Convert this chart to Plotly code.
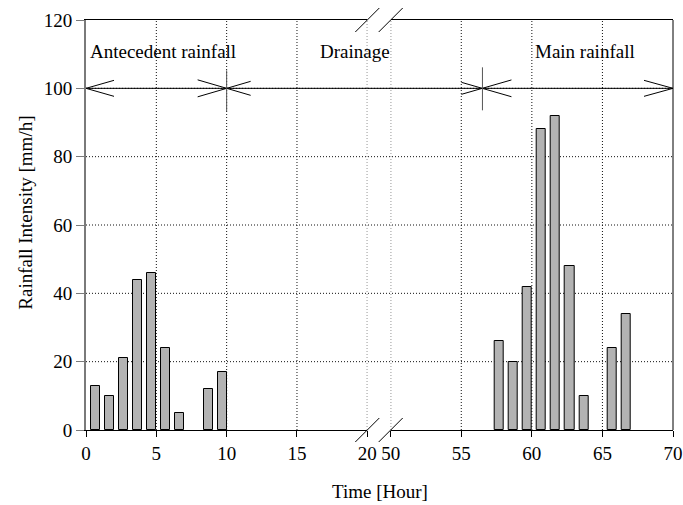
import plotly.graph_objects as go

# ---- data ----
hours_early = [1, 2, 3, 4, 5, 6, 7, 9, 10]
rain_early = [13, 10, 21, 44, 46, 24, 5, 12, 17]
hours_late = [58, 59, 60, 61, 62, 63, 64, 66, 67]
rain_late = [26, 20, 42, 88, 92, 48, 10, 24, 34]

x_ticks_early = [0, 5, 10, 15, 20]
x_ticks_late = [50, 55, 60, 65, 70]
y_ticks = [0, 20, 40, 60, 80, 100, 120]

phase_labels = ["Antecedent rainfall", "Drainage", "Main rainfall"]
phase_bounds = [0, 10, 56.5, 70]   # arrow marks (hours)
arrow_level = 100
label_level = 110.8

FONT = "Liberation Serif"
BAR_W = 0.64

fig = go.Figure()
bar_style = dict(marker=dict(color="#b3b3b3", line=dict(color="black", width=1)),
                 width=BAR_W, offset=-BAR_W, showlegend=False, hoverinfo="skip")
fig.add_trace(go.Bar(x=hours_early, y=rain_early, xaxis="x", yaxis="y", **bar_style))
fig.add_trace(go.Bar(x=hours_late, y=rain_late, xaxis="x2", yaxis="y", **bar_style))

W, H = 683, 505
ml, mr, mt, mb = 86, 10, 20, 75
pw = W - ml - mr
ph = H - mt - mb
d_left = [0, (367.3 - ml) / pw]
d_right = [(390.7 - ml) / pw, 1]

axis_common = dict(showline=True, linecolor="black", linewidth=1, mirror=True,
                   ticks="outside", ticklen=6, tickcolor="black", tickwidth=1,
                   showgrid=False, zeroline=False, automargin=False,
                   tickfont=dict(family=FONT, size=19, color="black"))

fig.update_layout(
    template="none",
    width=W, height=H, autosize=False,
    margin=dict(l=ml, r=mr, t=mt, b=mb, autoexpand=False),
    paper_bgcolor="white", plot_bgcolor="white",
    bargap=0,
    xaxis=dict(domain=d_left, range=[x_ticks_early[0], x_ticks_early[-1]],
               tickvals=x_ticks_early, anchor="y", **axis_common),
    xaxis2=dict(domain=d_right, range=[x_ticks_late[0], x_ticks_late[-1]],
                tickvals=x_ticks_late, anchor="y", **axis_common),
    yaxis=dict(range=[y_ticks[0], y_ticks[-1]], tickvals=y_ticks, anchor="x",
               showline=True, linecolor="#7a7a7a", linewidth=2,
               ticks="outside", ticklen=8, tickcolor="#7a7a7a", tickwidth=1,
               showgrid=False, zeroline=False, automargin=False,
               tickfont=dict(family=FONT, size=19, color="black")),
)

shapes = []
grid = dict(color="#111", width=1, dash="1px,2px")
# horizontal grid
for yv in y_ticks[1:-1]:
    shapes.append(dict(type="line", xref="paper", yref="y", x0=0, x1=1, y0=yv, y1=yv,
                       line=grid, layer="below"))
# vertical grid
for xv in x_ticks_early[1:]:
    shapes.append(dict(type="line", xref="x", yref="paper", x0=xv, x1=xv, y0=0, y1=1,
                       line=grid, layer="below"))
for xv in x_ticks_late[:-1]:
    shapes.append(dict(type="line", xref="x2", yref="paper", x0=xv, x1=xv, y0=0, y1=1,
                       line=grid, layer="below"))

# right border
shapes.append(dict(type="line", xref="paper", yref="paper", x0=1, x1=1, y0=0, y1=1,
                   line=dict(color="black", width=1)))

# axis break slashes (paper-referenced so they are not clipped)
def slash(xa, ya):
    return dict(type="line", xref="paper", yref="paper", xsizemode="pixel", ysizemode="pixel",
                xanchor=xa, yanchor=ya, x0=-12, x1=12, y0=-12, y1=12,
                line=dict(color="black", width=1))
for ya in (0, 1):
    shapes.append(slash(d_left[1], ya))
    shapes.append(slash(d_right[0], ya))

# phase arrow line
shapes.append(dict(type="line", xref="paper", yref="y", x0=0, x1=1,
                   y0=arrow_level, y1=arrow_level, line=dict(color="black", width=1)))

def pline(xref, xa, x0, y0, x1, y1, color="black"):
    return dict(type="line", xref=xref, yref="y", xsizemode="pixel", ysizemode="pixel",
                xanchor=xa, yanchor=arrow_level, x0=x0, x1=x1, y0=y0, y1=y1,
                line=dict(color=color, width=1))

# left arrowhead at start
shapes.append(pline("x", phase_bounds[0], 0, 0, 28, 8))
shapes.append(pline("x", phase_bounds[0], 0, 0, 28, -8))
# cross at first boundary
shapes.append(pline("x", phase_bounds[1], -29, 8.5, 24, -7))
shapes.append(pline("x", phase_bounds[1], -29, -8.5, 24, 7))
shapes.append(pline("x", phase_bounds[1], 0, 18, 0, -23, "#555"))
# cross at second boundary
shapes.append(pline("x2", phase_bounds[2], -21, 6, 29, -8.4))
shapes.append(pline("x2", phase_bounds[2], -21, -6, 29, 8.4))
shapes.append(pline("x2", phase_bounds[2], 0, 21, 0, -22, "#555"))
# right arrowhead at end
shapes.append(pline("x2", phase_bounds[3], -29, 8, 0, 0))
shapes.append(pline("x2", phase_bounds[3], -29, -8, 0, 0))

fig.update_layout(shapes=shapes)

lab_font = dict(family=FONT, size=19, color="black")
ann = [
    dict(text=phase_labels[0], xref="x", yref="y", x=0.15, y=label_level,
         xanchor="left", yanchor="middle", showarrow=False, font=lab_font),
    dict(text=phase_labels[1], xref="x", yref="y", x=16.5, y=label_level,
         xanchor="left", yanchor="middle", showarrow=False, font=lab_font),
    dict(text=phase_labels[2], xref="x2", yref="y", x=60.1, y=label_level,
         xanchor="left", yanchor="middle", showarrow=False, font=lab_font),
    dict(text="Rainfall Intensity [mm/h]", xref="paper", yref="paper",
         x=(26 - ml) / pw, y=(H - mb - 212.7) / ph, textangle=-90,
         xanchor="center", yanchor="middle", showarrow=False, font=lab_font),
    dict(text="Time [Hour]", xref="paper", yref="paper",
         x=(379.5 - ml) / pw, y=(H - mb - 492) / ph,
         xanchor="center", yanchor="middle", showarrow=False, font=lab_font),
]
fig.update_layout(annotations=ann)

fig.write_html("out.html", config={"displayModeBar": False},
               post_script="document.body.style.margin='0';document.body.style.overflow='hidden';")
